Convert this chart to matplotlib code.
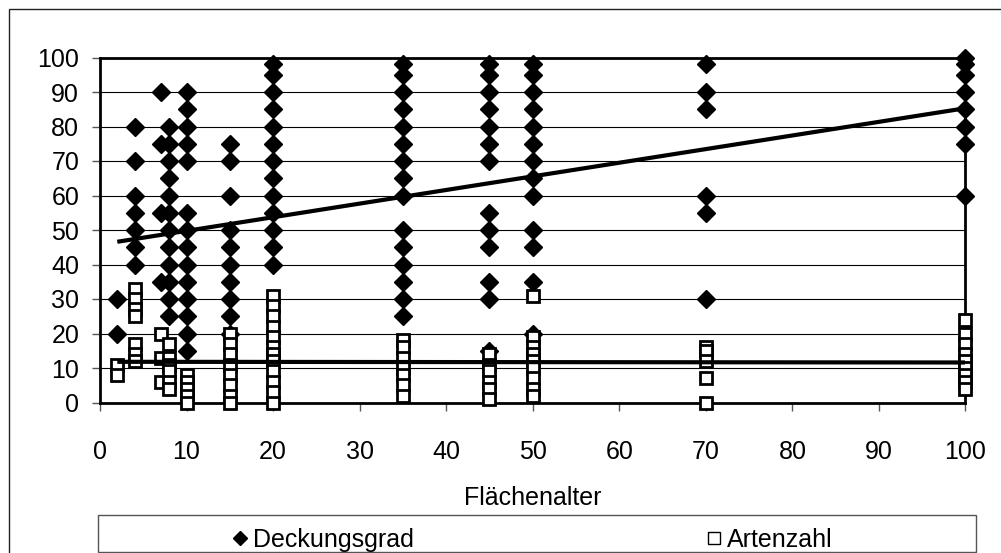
import numpy as np
import matplotlib
matplotlib.use('Agg')
import matplotlib.pyplot as plt
from matplotlib.lines import Line2D
from matplotlib.patches import Rectangle

plt.rcParams['font.family'] = ['Liberation Sans', 'DejaVu Sans']
plt.rcParams['font.size'] = 18

ages = [2, 4, 7, 8, 10, 15, 20, 35, 45, 50, 70, 100]
deckungsgrad = [
    [30, 20],
    [80, 70, 60, 55, 50, 45, 40],
    [90, 75, 55, 35],
    [80, 75, 70, 65, 60, 55, 50, 45, 40, 35, 30, 25],
    [90, 85, 80, 75, 70, 55, 50, 45, 40, 35, 30, 25, 20, 15],
    [75, 70, 60, 50, 45, 40, 35, 30, 25, 20],
    [98, 95, 90, 85, 80, 75, 70, 65, 60, 55, 50, 45, 40],
    [98, 95, 90, 85, 80, 75, 70, 65, 60, 50, 45, 40, 35, 30, 25],
    [98, 95, 90, 85, 80, 75, 70, 55, 50, 45, 35, 30, 15],
    [98, 95, 90, 85, 80, 75, 70, 65, 60, 50, 45, 35, 20],
    [98, 90, 85, 60, 55, 30],
    [100, 98, 95, 90, 85, 80, 75, 60],
]
artenzahl = [
    [11, 8],
    [33, 30, 27, 25, 17, 14, 12],
    [20, 13, 6],
    [17, 13, 11, 9, 6, 4],
    [8, 6, 4, 2, 0],
    [20, 17, 14, 11, 8, 5, 2, 0],
    [31, 28, 25, 22, 19, 16, 14, 12, 9, 6, 3, 0],
    [18, 16, 13, 10, 8, 5, 2],
    [14, 11, 9, 6, 4, 1],
    [31, 19, 16, 14, 12, 10, 7, 4, 2],
    [16, 15, 12, 7, 0],
    [24, 20, 17, 14, 12, 10, 8, 6, 4],
]
# linear trend lines (slope, intercept) as shown in the chart
trend_deckung = (0.395, 45.8)
trend_arten = (-0.002, 11.8)


def flatten(groups):
    xs, ys = [], []
    for a, vals in zip(ages, groups):
        xs += [a] * len(vals)
        ys += vals
    return np.array(xs), np.array(ys)


W, H = 1001, 553
fig = plt.figure(figsize=(W / 100, H / 100), dpi=100)

# outer chart frame
fig.add_artist(Rectangle((9 / W, -0.1), 1.2, 1 - 9 / H + 0.1, transform=fig.transFigure,
                         fill=False, edgecolor='#222222', lw=1))

ax = fig.add_axes([100 / W, 1 - 402.5 / H, 865.5 / W, 345 / H])
ax.set_xlim(0, 100)
ax.set_ylim(0, 100)
ax.set_xticks(range(0, 101, 10))
ax.set_yticks(range(0, 101, 10))
ax.grid(axis='y', color='black', lw=0.8)
ax.set_axisbelow(True)
for s in ax.spines.values():
    s.set_linewidth(2)
ax.tick_params(direction='out', length=6, width=1, color='#555555')
ax.tick_params(axis='x', pad=21)
ax.tick_params(axis='y', pad=9)

dx, dy = flatten(deckungsgrad)
ax.plot(dx, dy, 'D', color='black', ms=9.5, clip_on=False, zorder=3)
axx, axy = flatten(artenzahl)
ax.plot(axx, axy, 's', mfc='white', mec='black', mew=2, ms=9.2, clip_on=False, zorder=4)

xt = np.array([min(ages), max(ages)])
ax.plot(xt, trend_deckung[0] * xt + trend_deckung[1], color='black', lw=3, zorder=5,
        solid_capstyle='butt')
ax.plot(xt, trend_arten[0] * xt + trend_arten[1], color='black', lw=3, zorder=5,
        solid_capstyle='butt')

ax.set_xlabel('Flächenalter', labelpad=16)

# legend box
fig.add_artist(Rectangle((98 / W, 1 / H), 878 / W, (H - 515 - 1) / H, transform=fig.transFigure,
                         fill=False, edgecolor='#555555', lw=1))
handles = [Line2D([], [], ls='none', marker='D', color='black', ms=7),
           Line2D([], [], ls='none', marker='s', mfc='white', mec='black', mew=1, ms=8)]
fig.legend(handles, ['Deckungsgrad', 'Artenzahl'], ncol=2, frameon=False,
           loc='center left', bbox_to_anchor=(227.5 / W, 1 - 540 / H),
           borderpad=0, borderaxespad=0, handlelength=1.0, handletextpad=0.02,
           columnspacing=11.5)

fig.savefig('out.png', dpi=100)
